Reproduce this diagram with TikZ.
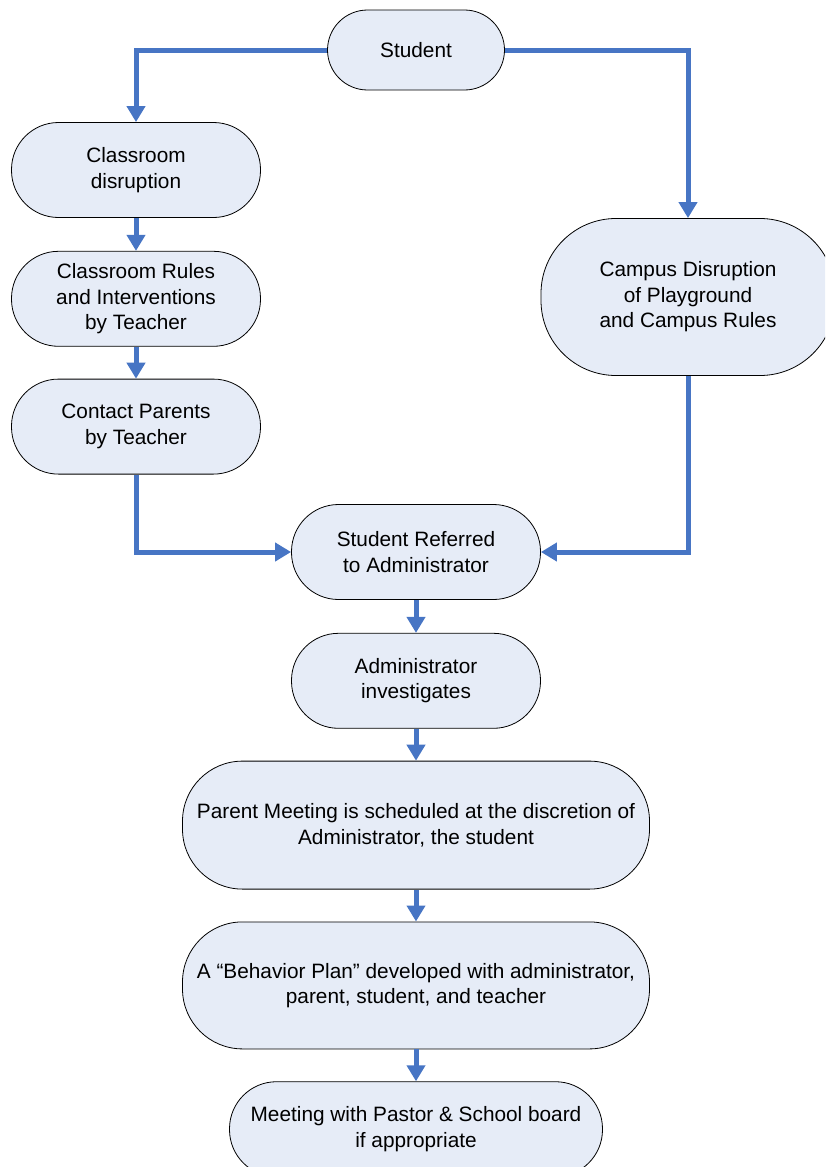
\documentclass[tikz,border=0pt]{standalone}
\usepackage{fontspec}
\setmainfont{Liberation Sans}
\usetikzlibrary{%
    arrows.meta,
    positioning
}
\definecolor{boxfill}{RGB}{230,236,247}
\definecolor{arrowblue}{RGB}{71,117,196}
\tikzset{flowbox/.style = {rectangle, rounded corners=#1, draw=black, line width=.8pt,
        fill=boxfill, align=center, inner sep=0pt,
        font=\fontsize{20.8}{25.5}\selectfont},
    flowbox/.default = 47pt,
    flowarrow/.style = {-{Triangle[width=18pt,length=16pt]}, arrowblue, line width=5pt}}

\begin{document}
\begin{tikzpicture}[x=1pt,y=-1pt]
    \clip (0,0) rectangle (825,1167);

    \node[flowbox=40pt, minimum width=177pt, minimum height=80pt] (student) at (416,50) {Student};

    % left column
    \node[flowbox, minimum width=249pt, minimum height=95pt] (disrupt) at (136,170)
        {Classroom\\disruption};
    \node[flowbox, minimum width=249pt, minimum height=95pt] (rules) [below=33pt of disrupt]
        {Classroom Rules\\and Interventions\\by Teacher};
    \node[flowbox, minimum width=249pt, minimum height=95pt] (contact) [below=32pt of rules]
        {Contact Parents\\by Teacher};

    % right column
    \node[flowbox=75pt, minimum width=294pt, minimum height=157pt] (campus) at (688,297)
        {Campus Disruption\\of Playground\\and Campus Rules};

    % middle column
    \node[flowbox, minimum width=249pt, minimum height=95pt] (referred) at (416,552)
        {Student Referred\\to Administrator};
    \node[flowbox, minimum width=249pt, minimum height=95pt] (admin) [below=33pt of referred]
        {Administrator\\investigates};
    \node[flowbox=60pt, minimum width=467pt, minimum height=128pt] (meeting) [below=32pt of admin]
        {Parent Meeting is scheduled at the discretion of\\Administrator, the student};
    \node[flowbox=60pt, minimum width=467pt, minimum height=127pt] (plan) [below=32pt of meeting]
        {A “Behavior Plan” developed with administrator,\\parent, student, and teacher};
    \node[flowbox, minimum width=373pt, minimum height=95pt] (pastor) [below=32pt of plan]
        {Meeting with Pastor \& School board\\if appropriate};

    \draw[flowarrow] (student.west) -| (disrupt.north);
    \draw[flowarrow] (student.east) -| (campus.north);
    \draw[flowarrow] (contact.south) |- (referred.west);
    \draw[flowarrow] (campus.south) |- (referred.east);

    \foreach \x [remember=\x as \lastx (initially disrupt)] in {rules,contact}
        \draw[flowarrow] (\lastx) -- (\x);
    \foreach \x [remember=\x as \lastx (initially referred)] in {admin,meeting,plan,pastor}
        \draw[flowarrow] (\lastx) -- (\x);
\end{tikzpicture}
\end{document}
